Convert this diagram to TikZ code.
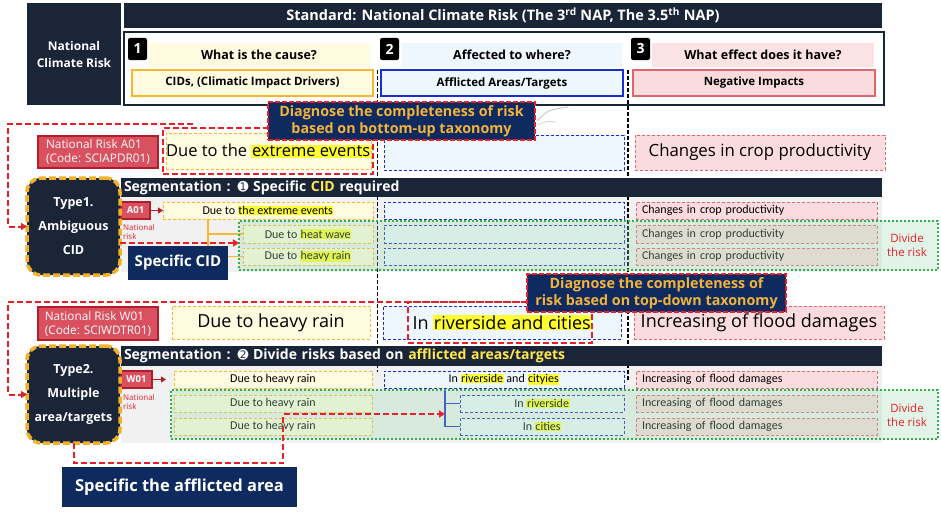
\documentclass[tikz,border=0pt]{standalone}
\usepackage{fontspec}
\setmainfont{Open Sans}
\newfontfamily\narrowfont{Carlito}
\newfontfamily\dingfont{DejaVu Sans}
\usepackage{tikz}
\usepackage{xcolor}
\usetikzlibrary{positioning, arrows.meta}
\definecolor{hdnavy}{HTML}{1B2538}
\definecolor{clnavy}{HTML}{0E2A5E}
\definecolor{cltext}{HTML}{F2B33D}
\definecolor{rdash}{HTML}{E8202A}
\definecolor{riskfill}{HTML}{D9505E}
\definecolor{riskline}{HTML}{B01E2A}
\definecolor{cidline}{HTML}{F5B82E}
\definecolor{cidfill}{HTML}{FFFBE0}
\definecolor{arline}{HTML}{1A2FD0}
\definecolor{arfill}{HTML}{EEF7FD}
\definecolor{niline}{HTML}{E06670}
\definecolor{nifill}{HTML}{FADCDF}
\definecolor{hlyel}{HTML}{FFFF30}
\definecolor{graybg}{HTML}{F1F1F1}
\definecolor{grnline}{HTML}{2FB04A}
\definecolor{grnfill}{HTML}{9FDCB0}
\definecolor{typeline}{HTML}{F2B12A}
\definecolor{segtext}{HTML}{FFE84A}
\newcommand{\hlx}[1]{{\fboxsep=0.6pt\colorbox{hlyel}{#1}}}
\tikzset{
    sz/.style 2 args={minimum width=#1pt, minimum height=#2pt},
    nwbox/.style={anchor=north west, inner sep=0pt, outer sep=0pt},
    hdbox/.style={nwbox, fill=hdnavy, text=white},
    badge/.style={nwbox, fill=black, text=white, rounded corners=2pt, sz={19}{22}, font=\fontsize{14}{14}\selectfont\bfseries},
    qbox/.style={nwbox, sz={222}{24}, font=\fontsize{12.5}{12.5}\selectfont\bfseries},
    catbox/.style={nwbox, line width=2pt, sz={241}{26}, font=\fontsize{11.5}{11.5}\selectfont\bfseries},
    riskbox/.style={nwbox, fill=riskfill, draw=riskline, line width=1.5pt, text=white, align=left, inner xsep=4pt, font=\fontsize{11.8}{14}\selectfont},
    bigcause/.style={nwbox, fill=cidfill, draw=cidline, densely dashed, line width=0.7pt, font=\fontsize{16.5}{16.5}\selectfont},
    bigarea/.style={nwbox, fill=arfill, draw=arline, densely dashed, line width=0.9pt, font=\fontsize{16.5}{16.5}\selectfont},
    bigimp/.style={nwbox, fill=nifill, draw=niline, densely dashed, line width=0.7pt, font=\fontsize{16.8}{16.8}\selectfont},
    bigfont/.style={font=\fontsize{18}{18}\selectfont},
    smcause/.style={bigcause, line width=0.9pt, font=\narrowfont\fontsize{12}{12}\selectfont},
    smarea/.style={bigarea, line width=1pt, font=\narrowfont\fontsize{12}{12}\selectfont},
    smimp/.style={bigimp, line width=0.9pt, text width=229pt, inner xsep=6pt, align=left, minimum height=17pt, font=\narrowfont\fontsize{12}{12}\selectfont},
    diagbox/.style={nwbox, draw=rdash, dash pattern=on 6pt off 3pt, line width=2.2pt},
    callout/.style={nwbox, fill=clnavy, draw=rdash, dash pattern=on 5pt off 2pt, line width=2pt, text=cltext, align=center, font=\fontsize{14.3}{17}\selectfont\bfseries},
    segbar/.style={nwbox, fill=hdnavy, text=white, text width=755pt, inner xsep=3pt, align=left, minimum height=19pt, font=\fontsize{14}{14}\selectfont\bfseries},
    tag/.style={nwbox, fill=riskfill, draw=riskline, line width=1.2pt, text=white, font=\fontsize{9.5}{9.5}\selectfont\bfseries},
    natlab/.style={anchor=north west, inner sep=0pt, text=rdash, align=left, font=\fontsize{8}{9.5}\selectfont},
    tagarrow/.style={draw=riskline, line width=1.2pt, -{Triangle[length=5pt, width=6pt]}},
    grnbox/.style={nwbox, draw=grnline, dotted, line width=2pt, fill=grnfill, fill opacity=0.3},
    divtext/.style={text=rdash, align=center, font=\fontsize{11.5}{14}\selectfont},
    typebox/.style={nwbox, fill=hdnavy, draw=typeline, dash pattern=on 7pt off 3pt, line width=3.5pt, rounded corners=14pt, text=white, align=center, font=\fontsize{12.5}{24}\selectfont\bfseries},
    specbox/.style={nwbox, fill=clnavy, text=white, font=\fontsize{15}{15}\selectfont\bfseries},
    reddash/.style={draw=rdash, dash pattern=on 6pt off 3pt, line width=2pt, -{Triangle[length=6pt, width=7pt]}},
    cidtree/.style={draw=cidline, line width=1.8pt},
    artree/.style={draw=arline, line width=1.8pt},
    coldiv/.style={draw=black, dash pattern=on 4pt off 2pt, line width=1.3pt}
}

\begin{document}
\begin{tikzpicture}[x=1pt, y=-1pt]
\useasboundingbox (0,0) rectangle (941,511);
\fill[white] (0,0) rectangle (941,511);

% header
\node[hdbox, sz={94}{102}, align=center, font=\fontsize{12}{17}\selectfont\bfseries] (ncr) at (27,3) {National\\Climate Risk};
\node[hdbox, sz={758}{25}, font=\fontsize{14.5}{14.5}\selectfont\bfseries] (stdbar) at (124,3)
    {Standard: National Climate Risk (The 3\textsuperscript{rd} NAP, The 3.5\textsuperscript{th} NAP)};
\node[nwbox, draw=hdnavy, line width=1.5pt, sz={760}{73}] (stdframe) at (124,32) {};
\node[qbox, fill=cidfill] (q1) at (148,43) {What is the cause?};
\node[qbox, fill=arfill, sz={220}{24}] (q2) at (402,43) {Affected to where?};
\node[qbox, fill=nifill!80!white] (q3) at (652,43) {What effect does it have?};
\node[badge] (b1) at (128,38) {1};
\node[badge] (b2) at (380,38) {2};
\node[badge] (b3) at (631,38) {3};
\node[catbox, draw=cidline, fill=cidfill] (cids) at (132,70) {CIDs, (Climatic Impact Drivers)};
\node[catbox, draw=arline, fill=arfill, sz={242}{26}] (areas) at (381,70) {Afflicted Areas/Targets};
\node[catbox, draw=niline, fill=nifill, sz={242}{26}] (negimp) at (633,70) {Negative Impacts};

% backgrounds
\fill[graybg] (121,197) rectangle (882,272);
\fill[graybg] (121,366) rectangle (882,443);
\draw[coldiv] (377.5,70) -- (377.5,372);
\draw[coldiv] (628,70) -- (628,380);

% type 1
\node[riskbox, sz={120}{32}] (riskA) at (38,136) {National Risk A01\\(Code: SCIAPDR01)};
\node[bigcause, sz={205}{36}] (causeA) at (166,133) {Due to the \hlx{extreme events}};
\node[bigarea, sz={240}{35}] (areaA) at (384,135) {};
\node[bigimp, sz={250}{35}] (impA) at (635,135) {Changes in crop productivity};
\node[diagbox, sz={210}{46}] (diagA) at (163,128) {};
\node[segbar] (segA) at (121,178) {Segmentation : {\dingfont\fontsize{13}{13}\selectfont ➊} Specific \textcolor{segtext}{CID} required};

\node[tag, sz={29}{17}] (tagA) at (121,202) {A01};
\node[natlab] (natA) at (123,224) {National\\risk};
\node[smcause, sz={210}{17}] (dueA) at (163,202) {Due to \hlx{the extreme events}};
\node[smcause, sz={130}{18}] (dueB) at (243,225) {Due to \hlx{heat wave}};
\node[smcause, sz={130}{17}] (dueC) at (243,248) {Due to \hlx{heavy rain}};
\node[smarea, sz={240}{17}] (areaA1) at (384,202) {};
\node[smarea, sz={240}{18}] (areaA2) at (384,225) {};
\node[smarea, sz={240}{17}] (areaA3) at (384,248) {};
\node[smimp] (impA1) at (636,202) {Changes in crop productivity};
\node[smimp, minimum height=18pt] (impA2) at (636,225) {Changes in crop productivity};
\node[smimp] (impA3) at (636,248) {Changes in crop productivity};
\draw[tagarrow] (tagA) -- (dueA);
\draw[cidtree] ([xshift=45pt]dueA.south west) |- (dueB.west);
\draw[cidtree] ([xshift=45pt]dueA.south west) |- (dueC.west);
\node[grnbox, sz={699}{49}] (grnA) at (239,221) {};
\node[divtext] (divA) at (907,245) {Divide\\the risk};

\node[typebox, sz={93}{97}] (type1) at (27,178) {Type1.\\Ambiguous\\CID};
\draw[reddash] (type1.east |- dueB.south) -- (grnA.west |- dueB.south);
\node[specbox, sz={100}{34}] (specCID) at (128,246) {Specific CID};
\coordinate (loopA) at (193,124);
\draw[reddash] (loopA) -| ([xshift=-19pt]type1.west) -- (type1.west);
\draw[gray!35, line width=1.2pt] (537,121) .. controls (548,110) .. (568,107);
\draw[gray!35, line width=0.8pt] (538,125) .. controls (546,121) .. (556,122);
\node[callout, sz={267}{38}] (calA) at (268,102) {Diagnose the completeness of risk\\based on bottom-up taxonomy};

% type 2
\node[riskbox, sz={120}{33}] (riskW) at (38,307) {National Risk W01\\(Code: SCIWDTR01)};
\node[bigcause, bigfont, sz={198}{33}] (causeW) at (172,306) {Due to heavy rain};
\node[bigarea, bigfont, sz={238}{33}] (areaW) at (383,306) {In \hlx{riverside and cities}};
\node[bigimp, bigfont, sz={250}{33}] (impW) at (634,306) {Increasing of flood damages};
\node[diagbox, sz={184}{41}] (diagW) at (408,302) {};
\node[segbar, minimum height=20pt] (segW) at (121,346) {Segmentation : {\dingfont\fontsize{13}{13}\selectfont ➋} Divide risks based on \textcolor{segtext}{afflicted areas/targets}};

\node[tag, sz={31}{17}] (tagW) at (121,371) {W01};
\node[natlab] (natW) at (123,394) {National\\risk};
\node[smcause, sz={198}{17}] (dueW1) at (174,371) {Due to heavy rain};
\node[smcause, sz={198}{17}] (dueW2) at (174,395) {Due to heavy rain};
\node[smcause, sz={198}{17}] (dueW3) at (174,418) {Due to heavy rain};
\node[smarea, sz={240}{17}] (areaW1) at (384,371) {In \hlx{riverside} and \hlx{cityies}};
\node[smarea, sz={164}{17}] (areaW2) at (460,395) {In \hlx{riverside}};
\node[smarea, sz={164}{17}] (areaW3) at (460,418) {In \hlx{cities}};
\node[smimp] (impW1) at (636,371) {Increasing of flood damages};
\node[smimp] (impW2) at (636,395) {Increasing of flood damages};
\node[smimp] (impW3) at (636,418) {Increasing of flood damages};
\draw[tagarrow, shorten >=8pt] (tagW) -- (dueW1);
\draw[artree] ([xshift=61pt]areaW1.south west) |- (areaW2.west);
\draw[artree] ([xshift=61pt]areaW1.south west) |- (areaW3.west);
\node[grnbox, sz={767}{49}] (grnW) at (171,390) {};
\node[divtext] (divW) at (907,415) {Divide\\the risk};

\node[typebox, sz={93}{97}] (type2) at (27,346) {Type2.\\Multiple\\area/targets};
\coordinate (turnB) at (283,463);
\coordinate (brkB) at (445,414);
\draw[reddash] (type2.south) |- (turnB) |- (brkB);
\coordinate (loopB) at (527,302);
\draw[reddash] (loopB) -| ([xshift=-19pt]type2.west) -- (type2.west);
\node[callout, sz={259}{38}] (calW) at (527,274) {Diagnose the completeness of\\risk based on top-down taxonomy};
\node[specbox, sz={235}{40}, font=\fontsize{16.5}{16.5}\selectfont\bfseries] (specArea) at (62,467) {Specific the afflicted area};
\end{tikzpicture}
\end{document}
